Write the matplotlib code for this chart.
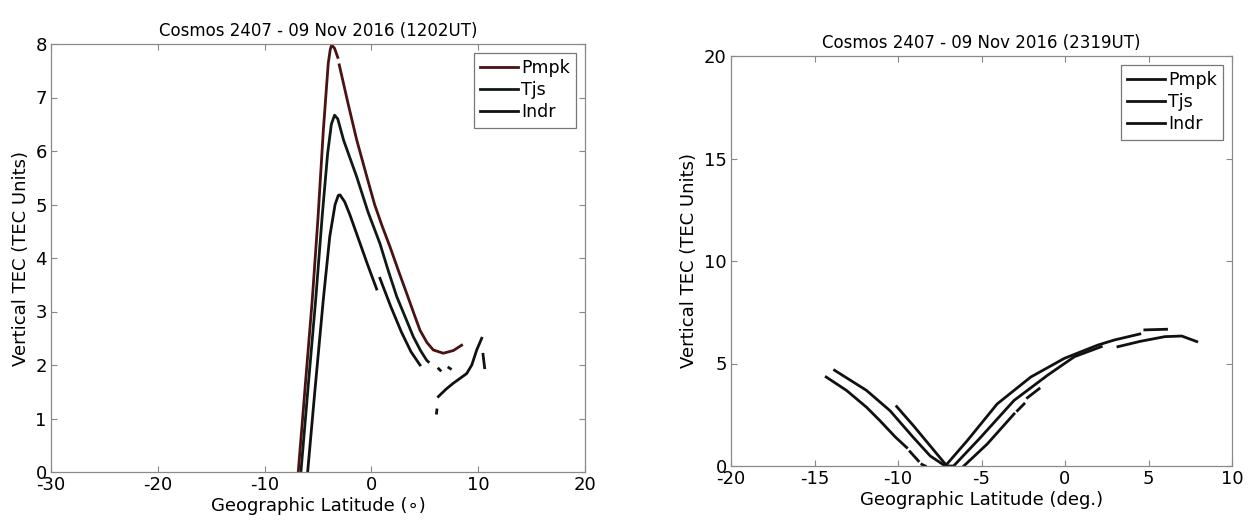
import numpy as np
import matplotlib
matplotlib.use("Agg")
import matplotlib.pyplot as plt

plt.rcParams['font.family'] = ['DejaVu Sans']
plt.rcParams['axes.unicode_minus'] = False

nan = np.nan

# ---------------- Left panel (1202UT) ----------------
left_title = "Cosmos 2407 - 09 Nov 2016 (1202UT)"
left_xlabel = "Geographic Latitude (\u2218)"
ylabel = "Vertical TEC (TEC Units)"
left_xticks = [-30, -20, -10, 0, 10, 20]
left_yticks = [0, 1, 2, 3, 4, 5, 6, 7, 8]

L_pmpk_x = [-6.85, -6.2, -5.54, -5.0, -4.5, -4.04, -3.85, -3.72, -3.45, -3.15, nan,
            -3.01, -2.2, -1.38, -0.4, 0.3, 1.0, 1.74, 2.5, 3.30, 4.0, 4.55, 5.2, 5.80, 6.73, 7.67, 8.45]
L_pmpk_y = [0.0, 1.6, 3.21, 4.75, 6.39, 7.64, 7.9, 7.98, 7.92, 7.75, nan,
            7.61, 6.9, 6.21, 5.5, 5.0, 4.6, 4.21, 3.78, 3.34, 2.95, 2.65, 2.42, 2.28, 2.22, 2.27, 2.37]

L_tjs_x = [-6.6, -5.9, -5.22, -4.6, -4.1, -3.75, -3.45, -3.15, -2.6, -1.38, -0.3, 0.80, 1.6, 2.37, 3.2, 3.92, 4.6, 5.17, 5.33,
           nan, 6.3, 6.45, nan, 7.25, 7.4]
L_tjs_y = [0.0, 1.65, 3.21, 4.8, 5.95, 6.5, 6.67, 6.6, 6.2, 5.52, 4.85, 4.27, 3.75, 3.28, 2.88, 2.53, 2.27, 2.09, 2.06,
           nan, 1.93, 1.90, nan, 1.95, 1.93]

L_indr_x = [-5.97, -5.3, -4.51, -3.9, -3.4, -3.1, -2.94, -2.5, -2.0, -1.2, -0.4, 0.49, nan,
            0.80, 1.8, 2.8, 3.7, 4.55, nan,
            6.27, 7.0, 7.67, 8.3, 8.92, 9.4, 9.86, 10.33, nan,
            6.1, 6.13, nan, 10.45, 10.6]
L_indr_y = [0.0, 1.5, 3.21, 4.4, 5.0, 5.17, 5.18, 5.05, 4.8, 4.35, 3.9, 3.42, nan,
            3.62, 3.1, 2.62, 2.25, 2.0, nan,
            1.41, 1.55, 1.66, 1.75, 1.84, 2.0, 2.28, 2.50, nan,
            1.10, 1.16, nan, 2.2, 1.95]

# ---------------- Right panel (2319UT) ----------------
right_title = "Cosmos 2407 - 09 Nov 2016 (2319UT)"
right_xlabel = "Geographic Latitude (deg.)"
right_xticks = [-20, -15, -10, -5, 0, 5, 10]
right_yticks = [0, 5, 10, 15, 20]

R_pmpk_x = [-13.8, -11.89, -10.48, -9.08, -8.07, -7.17, -5.86, -4.06, -2.05, -0.04, 1.97, 2.97, 4.48,
            nan, 4.78, 6.08]
R_pmpk_y = [4.67, 3.69, 2.70, 1.39, 0.49, 0.0, 1.23, 3.03, 4.34, 5.25, 5.9, 6.15, 6.44,
            nan, 6.64, 6.67]

R_tjs_x = [-10.08, -9.08, -8.07, -7.07, -6.67, -5.06, -3.05, -1.04, 0.56, 2.17,
           nan, 3.17, 4.5, 5.98, 6.99, 7.89]
R_tjs_y = [2.90, 1.97, 0.98, 0.0, 0.0, 1.39, 3.2, 4.43, 5.33, 5.82,
           nan, 5.82, 6.08, 6.31, 6.34, 6.07]

R_indr_x = [-14.3, -13.09, -11.89, -11.08, -10.18, -9.48, nan, -9.28, -8.78, nan, -8.57, -8.37,
            nan, -6.06, -4.66, -3.05, nan, -2.85, -2.45, nan, -2.25, -1.55]
R_indr_y = [4.34, 3.69, 2.87, 2.21, 1.43, 0.90, nan, 0.70, 0.25, nan, 0.08, 0.0,
            nan, 0.0, 1.07, 2.54, nan, 2.7, 3.03, nan, 3.33, 3.77]

labels = ["Pmpk", "Tjs", "Indr"]

fig = plt.figure(figsize=(12.51, 5.28), dpi=100)
axL = fig.add_axes([51 / 1251, 1 - 472 / 528, (585 - 51) / 1251, (472 - 44) / 528])
axR = fig.add_axes([731 / 1251, 1 - 466 / 528, (1232 - 731) / 1251, (466 - 56) / 528])

lw = 2.0
axL.plot(L_pmpk_x, L_pmpk_y, color='#4a1212', lw=lw, label=labels[0])
axL.plot(L_tjs_x, L_tjs_y, color='#101a14', lw=lw, label=labels[1])
axL.plot(L_indr_x, L_indr_y, color='#111111', lw=lw, label=labels[2])

axR.plot(R_pmpk_x, R_pmpk_y, color='#151010', lw=lw, label=labels[0])
axR.plot(R_tjs_x, R_tjs_y, color='#111111', lw=lw, label=labels[1])
axR.plot(R_indr_x, R_indr_y, color='#111111', lw=lw, label=labels[2])

for ax, title, xlabel, xt, yt in [
    (axL, left_title, left_xlabel, left_xticks, left_yticks),
    (axR, right_title, right_xlabel, right_xticks, right_yticks),
]:
    ax.set_xlim(xt[0], xt[-1])
    ax.set_ylim(yt[0], yt[-1])
    ax.set_xticks(xt)
    ax.set_yticks(yt)
    ax.tick_params(direction='in', top=True, right=True, length=4, width=0.8,
                   color='#888888', labelsize=13, pad=3)
    for s in ax.spines.values():
        s.set_color('#8a8a8a')
        s.set_linewidth(0.9)
    ax.set_title(title, fontsize=12, pad=6)
    ax.set_xlabel(xlabel, fontsize=13, labelpad=2)
    ax.set_ylabel(ylabel, fontsize=13, labelpad=4)
    leg = ax.legend(loc='upper right', fontsize=12.5, handlelength=2.2, handletextpad=0.2,
                    labelspacing=0.25, borderpad=0.35, fancybox=False, framealpha=1,
                    borderaxespad=0.5)
    leg.get_frame().set_edgecolor('#777777')
    leg.get_frame().set_linewidth(0.9)

fig.savefig("out.png", dpi=100)
